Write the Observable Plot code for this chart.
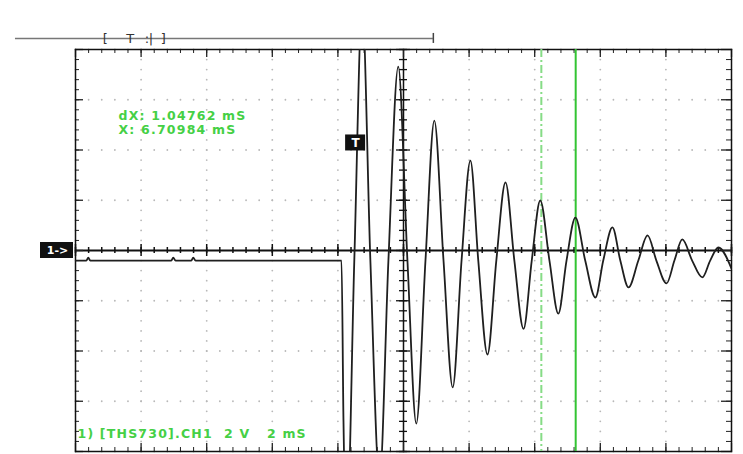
<!DOCTYPE html>
<html><head><meta charset="utf-8">
<script src="https://cdn.jsdelivr.net/npm/d3@7"></script>
<script src="https://cdn.jsdelivr.net/npm/@observablehq/plot@0.6"></script>
<style>html,body{margin:0;padding:0;background:#fff;} #chart svg{display:block}</style>
</head><body><div id="chart"></div>
<script>
// Waveform samples: time (ms, 0 = trigger) and voltage (V)
const timeMs = [-8.54,-8.21,-8.15,-8.09,-5.62,-5.56,-5.49,-5.01,-4.95,-4.88,-0.43,-0.37,-0.28,-0.04,0.20,0.45,0.73,1.00,1.30,1.58,1.85,2.13,2.40,2.68,2.96,3.23,3.50,3.74,4.02,4.29,4.57,4.84,5.12,5.37,5.63,5.91,6.18,6.43,6.70,7.00,7.31,7.55,7.83,8.07,8.32,8.62,8.90,9.17,9.48,9.72,9.96,10.26,10.57,10.81,11.06,11.46];
const volts  = [-0.40,-0.40,-0.28,-0.40,-0.40,-0.28,-0.40,-0.40,-0.28,-0.40,-0.40,-6.77,-11.6,-0.40,9.75,-0.40,-9.15,-0.40,7.32,-0.40,-6.89,-0.40,5.17,-0.40,-5.45,-0.40,3.58,-0.40,-4.14,-0.40,2.71,-0.40,-3.12,-0.40,1.99,-0.40,-2.51,-0.40,1.31,-0.40,-1.87,-0.40,0.92,-0.40,-1.47,-0.40,0.60,-0.40,-1.31,-0.40,0.44,-0.40,-1.07,-0.40,0.12,-0.72];

// Screen settings
const xDomain = [-8.54, 11.46];   // ms shown on screen (10 div x 2 ms)
const yDomain = [-8, 8];          // V (8 div x 2 V)
const msPerDiv = 2, voltsPerDiv = 2, minorPerDiv = 5;

// Cursors and readouts
const cursorDashed = 5.66222;
const cursorSolid = 6.70984;
const readouts = ["dX: 1.04762 mS", "X: 6.70984 mS"];
const channelLabel = "1) [THS730].CH1  2 V   2 mS";
const triggerTime = 0, triggerLevel = 4.28;

// Record-length bar (top)
const recordBar = {start: -10.37, end: 2.37, level: 8.44};
const recordMarks = [{t: -7.63, s: "["}, {t: -6.87, s: "T"}, {t: -6.36, s: ":"}, {t: -6.24, s: "|"}, {t: -5.86, s: "]"}];

const wave = timeMs.map((t, i) => ({t, v: volts[i]}));

const pxX = (xDomain[1] - xDomain[0]) / 656;  // ms per pixel
const pxY = (yDomain[1] - yDomain[0]) / 402;  // V per pixel
const minorX = msPerDiv / minorPerDiv, minorY = voltsPerDiv / minorPerDiv;
const xMinor = d3.range(0, 51).map(i => xDomain[0] + i * minorX);
const yMinor = d3.range(0, 41).map(i => yDomain[0] + i * minorY);
const xMajor = xMinor.filter((d, i) => i % minorPerDiv === 0);
const yMajor = yMinor.filter((d, i) => i % minorPerDiv === 0);
const xCenter = (xDomain[0] + xDomain[1]) / 2;

const gridDots = [];
for (const x of xMajor) for (const y of yMinor) gridDots.push({x, y});
for (const y of yMajor) for (const x of xMinor) gridDots.push({x, y});

const green = "#45d045";
const font = "DejaVu Sans";

const chart = Plot.plot({
  width: 743, height: 454,
  marginLeft: 75, marginRight: 12, marginTop: 49, marginBottom: 3,
  x: {domain: xDomain, axis: null},
  y: {domain: yDomain, axis: null},
  style: {background: "white", overflow: "visible"},
  marks: [
    Plot.dot(gridDots, {x: "x", y: "y", r: 0.9, fill: "#b8b8b8", stroke: null}),
    // center axes
    Plot.ruleY([0], {stroke: "#111", strokeWidth: 2}),
    Plot.ruleX([xCenter], {stroke: "#111", strokeWidth: 1.5}),
    Plot.ruleX(xMinor, {x: d => d, y1: -3 * pxY, y2: 3 * pxY, stroke: "#111", strokeWidth: 1.5}),
    Plot.ruleX(xMajor, {x: d => d, y1: -6 * pxY, y2: 6 * pxY, stroke: "#111", strokeWidth: 1.5}),
    Plot.ruleY(yMinor, {y: d => d, x1: xCenter - 4 * pxX, x2: xCenter + 4 * pxX, stroke: "#111", strokeWidth: 1.3}),
    Plot.ruleY(yMajor, {y: d => d, x1: xCenter - 7 * pxX, x2: xCenter + 7 * pxX, stroke: "#111", strokeWidth: 1.3}),
    // edge ticks
    Plot.ruleX(xMinor, {x: d => d, y1: yDomain[1], y2: yDomain[1] - 4 * pxY, stroke: "#222"}),
    Plot.ruleX(xMajor, {x: d => d, y1: yDomain[1], y2: yDomain[1] - 8 * pxY, stroke: "#222", strokeWidth: 1.3}),
    Plot.ruleX(xMinor, {x: d => d, y1: yDomain[0], y2: yDomain[0] + 4 * pxY, stroke: "#222"}),
    Plot.ruleX(xMajor, {x: d => d, y1: yDomain[0], y2: yDomain[0] + 8 * pxY, stroke: "#222", strokeWidth: 1.3}),
    Plot.ruleY(yMinor, {y: d => d, x1: xDomain[0], x2: xDomain[0] + 4 * pxX, stroke: "#222"}),
    Plot.ruleY(yMajor, {y: d => d, x1: xDomain[0], x2: xDomain[0] + 8 * pxX, stroke: "#222", strokeWidth: 1.3}),
    Plot.ruleY(yMinor, {y: d => d, x1: xDomain[1], x2: xDomain[1] - 5 * pxX, stroke: "#222"}),
    Plot.ruleY(yMajor, {y: d => d, x1: xDomain[1], x2: xDomain[1] - 10 * pxX, stroke: "#222", strokeWidth: 1.3}),
    Plot.frame({stroke: "#111", strokeWidth: 1.5}),
    // cursors
    Plot.ruleX([cursorDashed], {stroke: "#86dc86", strokeWidth: 2, strokeDasharray: "8,3,2,3"}),
    Plot.ruleX([cursorSolid], {stroke: "#33c433", strokeWidth: 2}),
    // waveform
    Plot.line(wave, {x: "t", y: "v", curve: "monotone-x", stroke: "#1f1f1f", strokeWidth: 1.8, clip: true}),
    // readouts
    Plot.text(readouts, {x: xDomain[0] + 43 * pxX, y: (d, i) => yDomain[1] - (66 + i * 14) * pxY, text: d => d,
      textAnchor: "start", fill: green, fontSize: 12.5, fontWeight: "bold", fontFamily: font, className: "spaced"}),
    Plot.text([channelLabel], {x: xDomain[0] + 2 * pxX, y: yDomain[0] + 18 * pxY, text: d => d,
      textAnchor: "start", fill: green, fontSize: 12.5, fontWeight: "bold", fontFamily: font, className: "spaced"}),
    // trigger box
    Plot.rect([triggerTime], {x1: d => d - 10 * pxX, x2: d => d + 10 * pxX, y1: triggerLevel - 8 * pxY, y2: triggerLevel + 8 * pxY, fill: "#111"}),
    Plot.text([triggerTime], {x: d => d, y: triggerLevel, text: () => "T", fill: "white", fontWeight: "bold", fontSize: 12, fontFamily: font}),
    // channel ground marker
    Plot.rect([0], {x1: xDomain[0] - 35 * pxX, x2: xDomain[0] - 2 * pxX, y1: d => d - 8 * pxY, y2: d => d + 8 * pxY, fill: "#111"}),
    Plot.text([0], {x: xDomain[0] - 18 * pxX, y: d => d, text: () => "1->", fill: "white", fontWeight: "bold", fontSize: 11, fontFamily: font}),
    // record-length bar
    Plot.ruleY([recordBar.level], {x1: recordBar.start, x2: recordBar.end, stroke: "#777", strokeWidth: 1.5}),
    Plot.ruleX([recordBar.end], {y1: recordBar.level - 5 * pxY, y2: recordBar.level + 5 * pxY, stroke: "#444", strokeWidth: 1.5}),
    Plot.text(recordMarks, {x: "t", y: recordBar.level, text: "s", fill: "#333", fontSize: 13, fontFamily: font})
  ]
});
chart.querySelectorAll(".spaced text").forEach(t => t.setAttribute("letter-spacing", "1.2"));
document.getElementById("chart").append(chart);
</script></body></html>
